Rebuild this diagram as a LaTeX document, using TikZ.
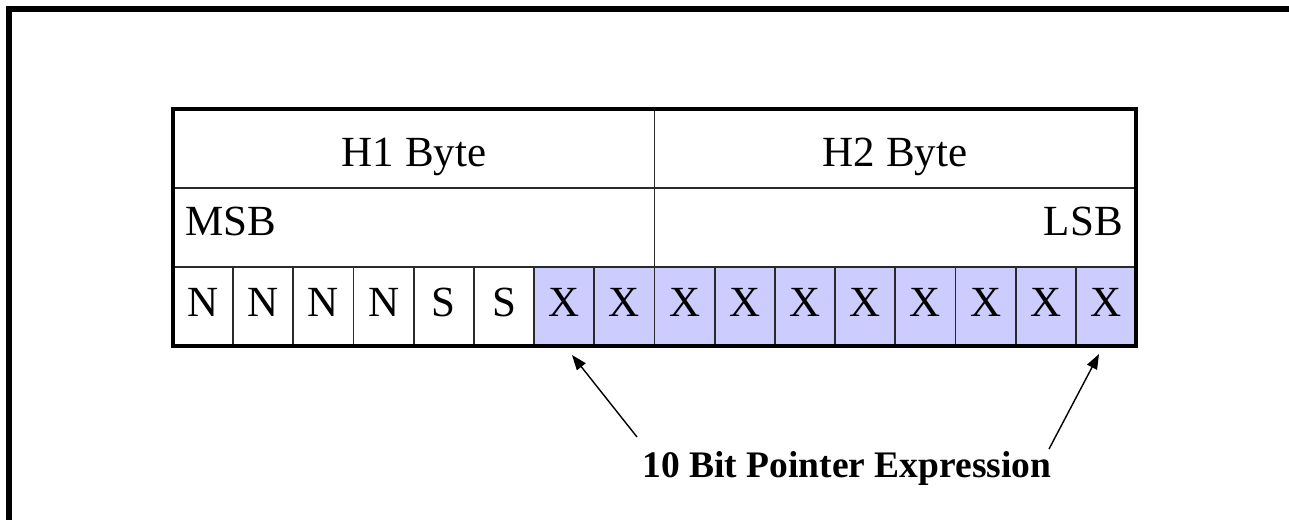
\documentclass[tikz,border=0pt]{standalone}
\usepackage{fontspec}
\setmainfont{Liberation Serif}
\usetikzlibrary{arrows.meta}
\definecolor{bitblue}{HTML}{CCCCFF}
\definecolor{gridgray}{HTML}{2A2A2A}
\begin{document}
\begin{tikzpicture}[x=1pt,y=-1pt,
  gridline/.style={draw=gridgray, line width=1.8pt},
  rowbox/.style={gridline, inner sep=0pt, outer sep=0pt, anchor=north west, minimum height=79pt},
  cellbox/.style={gridline, inner sep=0pt, outer sep=0pt, anchor=north west, minimum width=60.1875pt, minimum height=79pt},
  regtext/.style={font=\fontsize{43}{43}\selectfont, inner sep=0pt, anchor=base},
  ptrtext/.style={font=\bfseries\fontsize{37.5}{37.5}\selectfont, inner sep=0pt, anchor=base},
  ptrarrow/.style={line width=1.4pt, -{Triangle[length=15pt,width=11pt]}},
  framebox/.style={line width=6pt, line cap=rect}
]
\useasboundingbox (0,0) rectangle (1289,519);
% outer frame (partly outside the picture)
\draw[framebox] (9,540) -- (9,9) -- (1310,9);

% header rows
\node[rowbox, minimum width=481.5pt] (h1) at (173,109) {};
\node[rowbox, minimum width=481.5pt] (h2) at (654.5,109) {};
\node[rowbox, minimum width=481.5pt] (m1) at (173,188) {};
\node[rowbox, minimum width=481.5pt] (m2) at (654.5,188) {};

% bit cells
\foreach \i/\t in {1/N,2/N,3/N,4/N,5/S,6/S}{
  \node[cellbox, fill=white] (c\i) at ({173+(\i-1)*60.1875},267) {};
  \node[regtext] (l\i) at ({173+(\i-0.5)*60.1875},316) {\t};
}
\foreach \i in {7,...,16}{
  \node[cellbox, fill=bitblue] (c\i) at ({173+(\i-1)*60.1875},267) {};
  \node[regtext] (l\i) at ({173+(\i-0.5)*60.1875},316) {X};
}

% outer border of the table
\draw[line width=4pt] (173,109) rectangle (1136,346);

% header texts
\node[regtext] (t1) at (414,166) {H1 Byte};
\node[regtext] (t2) at (895,166) {H2 Byte};
\node[regtext, anchor=base west] (msb) at (185,235) {MSB};
\node[regtext, anchor=base east] (lsb) at (1123,235) {LSB};

% pointer label and arrows
\node[ptrtext] (ptr) at (847,477) {10 Bit Pointer Expression};
\coordinate (tailL) at (637,437);
\coordinate (tipL) at (572,355);
\coordinate (tailR) at (1049,449);
\coordinate (tipR) at (1099,354);
\draw[ptrarrow] (tailL) -- (tipL);
\draw[ptrarrow] (tailR) -- (tipR);
\end{tikzpicture}
\end{document}
